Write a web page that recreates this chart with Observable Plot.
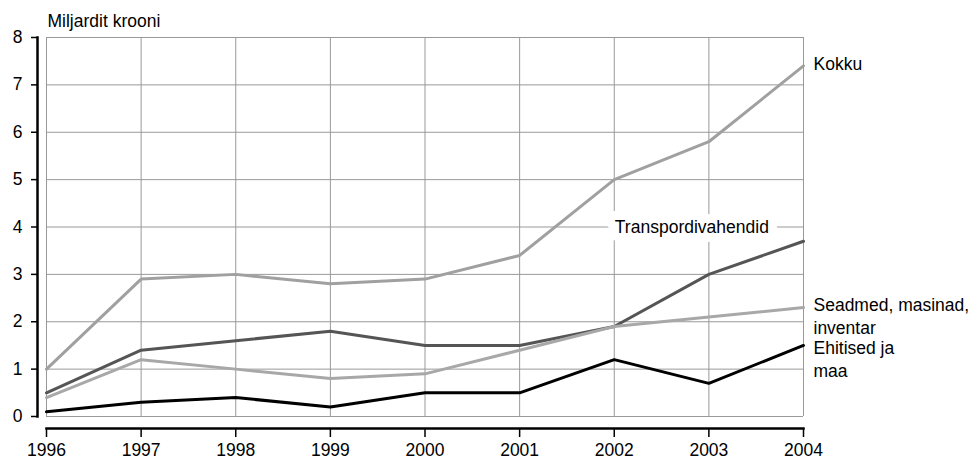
<!DOCTYPE html>
<html><head><meta charset="utf-8">
<script src="https://cdn.jsdelivr.net/npm/d3@7"></script>
<script src="https://cdn.jsdelivr.net/npm/@observablehq/plot@0.6"></script>
<style>body{margin:0;background:#fff}</style>
</head><body><div id="chart"></div>
<script>
const years = [1996,1997,1998,1999,2000,2001,2002,2003,2004];
const kokku = [1.0,2.9,3.0,2.8,2.9,3.4,5.0,5.8,7.4];
const transport = [0.5,1.4,1.6,1.8,1.5,1.5,1.9,3.0,3.7];
const seadmed = [0.4,1.2,1.0,0.8,0.9,1.4,1.9,2.1,2.3];
const ehitised = [0.1,0.3,0.4,0.2,0.5,0.5,1.2,0.7,1.5];
const seriesNames = ["Kokku","Transpordivahendid","Seadmed, masinad,\ninventar","Ehitised ja\nmaa"];
const seriesColors = ["#a0a0a0","#555555","#a8a8a8","#000000"];
const yTicks = [0,1,2,3,4,5,6,7,8];
const yTitle = "Miljardit krooni";
// in-chart label anchor for Transpordivahendid
const transportLabel = [{year: 2002.82, value: 4}];

const allSeries = [kokku, transport, seadmed, ehitised];
const data = [];
allSeries.forEach((vals, i) => vals.forEach((v, j) => data.push({year: years[j], value: v, series: i})));
const labelShift = {0: -12, 2: -13, 3: -8};
const endLabels = [0,2,3].map(i => ({year: years[years.length-1], value: allSeries[i][years.length-1], name: seriesNames[i], shift: labelShift[i]}));

const font = "Liberation Sans, Arial, sans-serif";
const fs = 17.5;
const chart = Plot.plot({
  width: 979, height: 459,
  marginTop: 37, marginBottom: 43, marginLeft: 46, marginRight: 176,
  style: {fontFamily: font, fontSize: fs + "px", color: "#000", background: "#fff"},
  x: {domain: [1996, 2004], ticks: years, label: null},
  y: {domain: [0, 8], ticks: yTicks, label: null},
  marks: [
    Plot.gridX(years, {stroke: "#999", strokeOpacity: 1, strokeWidth: 1}),
    Plot.gridY(yTicks, {stroke: "#999", strokeOpacity: 1, strokeWidth: 1}),
    Plot.frame({anchor: "left", dx: -9, stroke: "#000", strokeWidth: 2.5}),
    Plot.frame({anchor: "bottom", dy: 12, stroke: "#000", strokeWidth: 2.5}),
    Plot.axisY(yTicks, {dx: -9, tickSize: 6, tickPadding: 9, tickFormat: d => String(d), label: null, stroke: "#000", strokeWidth: 1.5, fontSize: fs}),
    Plot.axisX(years, {dy: 12, tickSize: 9, tickPadding: 6, tickFormat: d => String(d), label: null, stroke: "#000", strokeWidth: 1.5, fontSize: fs}),
    Plot.line(data, {x: "year", y: "value", z: "series", stroke: d => seriesColors[d.series], strokeWidth: 3, strokeLinejoin: "miter"}),
    Plot.text(transportLabel, {x: "year", y: "value", text: () => seriesNames[1], fill: "#000", stroke: "#fff", strokeWidth: 18, strokeLinejoin: "round", fontSize: fs}),
    ...endLabels.map(d => Plot.text([d], {x: "year", y: "value", text: "name", textAnchor: "start", lineAnchor: "top", dx: 10, dy: d.shift, lineHeight: 1.33, fill: "#000", fontSize: fs})),
    Plot.text([{year: years[0], value: yTicks[yTicks.length - 1], t: yTitle}], {x: "year", y: "value", text: "t", textAnchor: "start", lineAnchor: "bottom", dx: 1, dy: -11, fill: "#000", fontSize: fs})
  ]
});
document.getElementById("chart").appendChild(chart);
</script>
</body></html>
